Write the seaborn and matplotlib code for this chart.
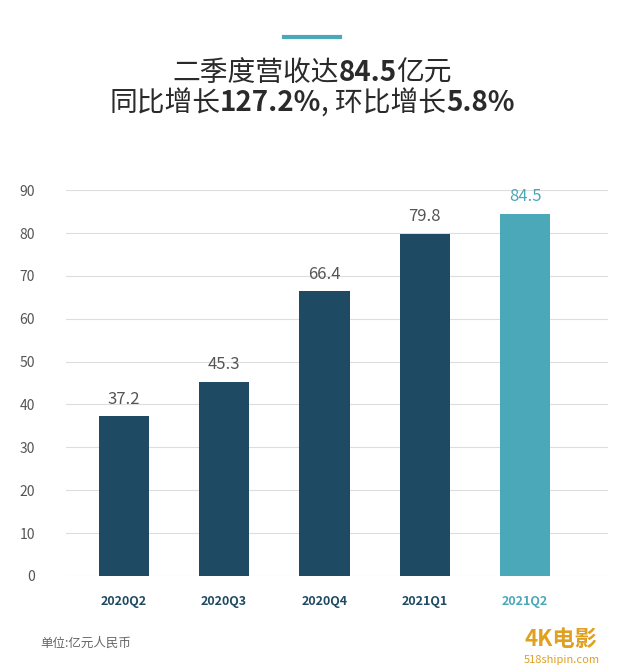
import matplotlib
matplotlib.use("Agg")
import matplotlib.pyplot as plt
import seaborn as sns
import pandas as pd
from matplotlib.lines import Line2D

plt.rcParams["font.family"] = "Noto Sans CJK SC"

quarters = ["2020Q2", "2020Q3", "2020Q4", "2021Q1", "2021Q2"]
revenue = [37.2, 45.3, 66.4, 79.8, 84.5]
yticks = [0, 10, 20, 30, 40, 50, 60, 70, 80, 90]

dark = "#1f4a63"
teal = "#4aa8b8"
colors = [dark] * 4 + [teal]

df = pd.DataFrame({"q": quarters, "v": revenue})
fig = plt.figure(figsize=(6.24, 6.72), dpi=100)
ax = fig.add_axes([0.105, 0.143, 0.87, 0.574])
sns.barplot(data=df, x="q", y="v", hue="q", palette=colors, legend=False, width=0.5,
            saturation=1, ax=ax, zorder=3)
ax.set_xlim(-0.58, 4.83)
ax.set_ylim(0, 90)
ax.set_yticks(yticks)
ax.grid(axis="y", color="#dddddd", linewidth=0.8, zorder=0)
for s in ax.spines.values():
    s.set_visible(False)
ax.tick_params(length=0)
ax.tick_params(axis="y", labelsize=10, labelcolor="#555555", pad=22)
ax.set_xlabel(""); ax.set_ylabel("")
ax.set_xticks(range(5))
ax.set_xticklabels(quarters, fontsize=9, fontweight="bold")
for i, t in enumerate(ax.get_xticklabels()):
    t.set_color(teal if i == 4 else dark)
ax.tick_params(axis="x", pad=14)
for i, v in enumerate(revenue):
    ax.text(i, v + 2, f"{v}", ha="center", va="bottom", fontsize=12,
            color=teal if i == 4 else "#555555")

fig.add_artist(Line2D([0.455, 0.545], [0.945, 0.945], color=teal, lw=3))

def mixed(parts, y):
    fig.canvas.draw()
    r = fig.canvas.get_renderer()
    texts = [fig.text(0, y, s, fontsize=20, fontweight=("bold" if b else "normal"),
                      color="#2a2a2a", va="center") for s, b in parts]
    widths = [t.get_window_extent(r).width / fig.bbox.width for t in texts]
    x = 0.5 - sum(widths) / 2
    for t, w in zip(texts, widths):
        t.set_x(x); x += w

mixed([("二季度营收达", False), ("84.5", True), ("亿元", False)], 0.892)
mixed([("同比增长", False), ("127.2%", True), (", 环比增长", False), ("5.8%", True)], 0.846)

fig.text(0.065, 0.043, "单位:亿元人民币", fontsize=9, color="#666666", va="center")
fig.text(0.84, 0.048, "4K电影", fontsize=16, fontweight="bold", color="#e0a020", va="center")
fig.text(0.84, 0.018, "518shipin.com", fontsize=8, color="#e0a020", va="center")
fig.savefig("out.png", dpi=100, facecolor="white")
